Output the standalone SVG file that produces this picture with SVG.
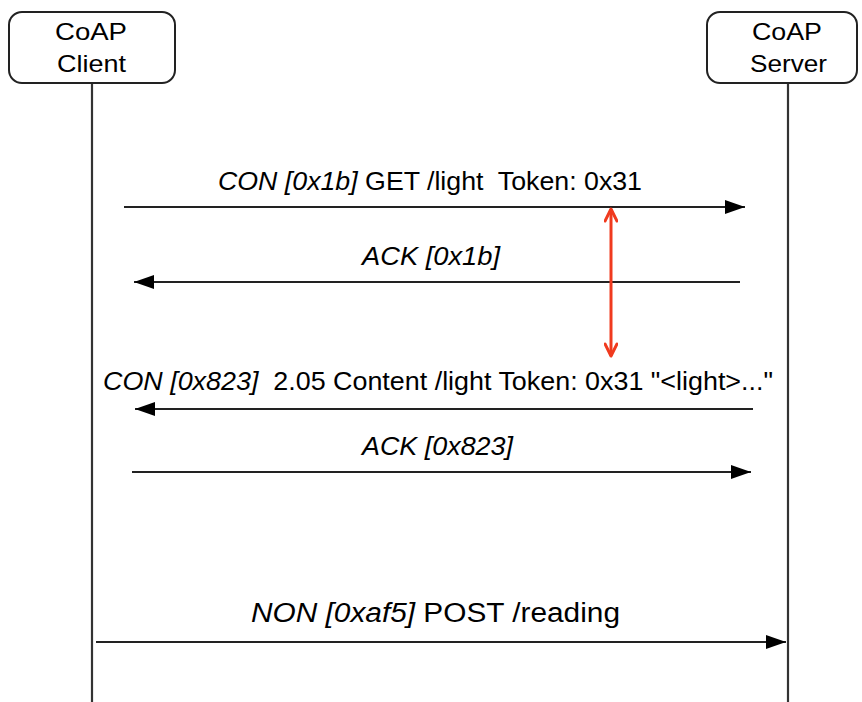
<svg xmlns="http://www.w3.org/2000/svg" width="862" height="702" viewBox="0 0 862 702">
<style>
.box{fill:#fff;stroke:#222;stroke-width:2}
.life{stroke:#333;stroke-width:2.2}
.msg{stroke:#222;stroke-width:2.2;fill:none}
.t{font-family:"Liberation Sans",Arial,sans-serif;fill:#000}
.i{font-style:italic}
</style>
<defs>
<marker id="ah" viewBox="0 0 20 14" refX="20" refY="7" markerWidth="20" markerHeight="14" markerUnits="userSpaceOnUse" orient="auto">
<path d="M0,0 L20,7 L0,14 Z" fill="#000"/>
</marker>
<marker id="rh" viewBox="0 0 16 14" refX="14" refY="7" markerWidth="16" markerHeight="14" markerUnits="userSpaceOnUse" orient="auto-start-reverse">
<path d="M2,1 L14,7 L2,13" fill="none" stroke="#f03a1e" stroke-width="3" stroke-linecap="round" stroke-linejoin="round"/>
</marker>
</defs>
<rect width="862" height="702" fill="#fff"/>
<g id="lifelines">
<line class="life" x1="92" y1="84" x2="92" y2="702"/>
<line class="life" x1="788" y1="84" x2="788" y2="702"/>
</g>
<g id="client">
<rect class="box" x="9" y="12" width="166" height="71" rx="13"/>
<text class="t" x="55" y="40" font-size="24.5" textLength="72" lengthAdjust="spacingAndGlyphs">CoAP</text>
<text class="t" x="57" y="72" font-size="24.5" textLength="69" lengthAdjust="spacingAndGlyphs">Client</text>
</g>
<g id="server">
<rect class="box" x="707" y="12" width="150" height="71" rx="13"/>
<text class="t" x="752" y="40" font-size="24.5" textLength="70" lengthAdjust="spacingAndGlyphs">CoAP</text>
<text class="t" x="750" y="72" font-size="24.5" textLength="77" lengthAdjust="spacingAndGlyphs">Server</text>
</g>
<g id="connectors">
<line class="msg" x1="124" y1="207" x2="745" y2="207" marker-end="url(#ah)"/>
<line class="msg" x1="740" y1="282" x2="134" y2="282" marker-end="url(#ah)"/>
<line class="msg" x1="753" y1="409" x2="135" y2="409" marker-end="url(#ah)"/>
<line class="msg" x1="132" y1="472" x2="751" y2="472" marker-end="url(#ah)"/>
<line class="msg" x1="96" y1="642" x2="786" y2="642" marker-end="url(#ah)"/>
<line x1="611" y1="209" x2="611" y2="356" stroke="#f03a1e" stroke-width="3" marker-start="url(#rh)" marker-end="url(#rh)"/>
</g>
<g id="labels">
<text class="t" x="218" y="190" font-size="25" xml:space="preserve" textLength="424" lengthAdjust="spacingAndGlyphs"><tspan class="i">CON [0x1b]</tspan> GET /light  Token: 0x31</text>
<text class="t i" x="362" y="265" font-size="25" textLength="138" lengthAdjust="spacingAndGlyphs">ACK [0x1b]</text>
<text class="t" x="103" y="390" font-size="25" xml:space="preserve" textLength="670" lengthAdjust="spacingAndGlyphs"><tspan class="i">CON [0x823]</tspan>  2.05 Content /light Token: 0x31 "&lt;light&gt;..."</text>
<text class="t i" x="362" y="455" font-size="25" textLength="151" lengthAdjust="spacingAndGlyphs">ACK [0x823]</text>
<text class="t" x="251" y="622" font-size="27" textLength="369" lengthAdjust="spacingAndGlyphs"><tspan class="i">NON [0xaf5]</tspan> POST /reading</text>
</g>
</svg>
